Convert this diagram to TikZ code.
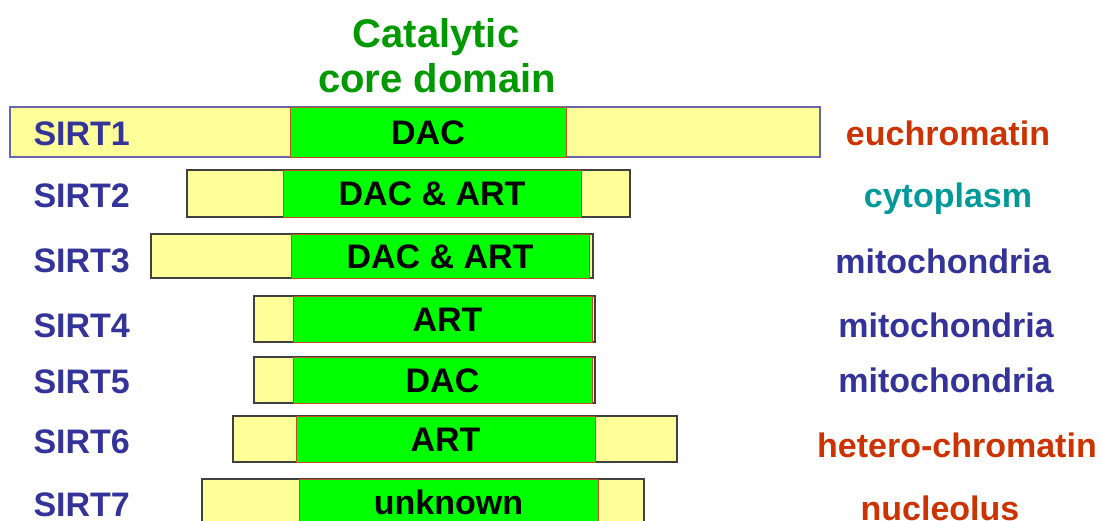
\documentclass[tikz,border=0pt]{standalone}
\usepackage{fontspec}
\setmainfont{Liberation Sans}
\definecolor{sirtblue}{HTML}{333399}
\definecolor{locred}{HTML}{CC3300}
\definecolor{loccyan}{HTML}{009999}
\definecolor{coregreen}{HTML}{009900}
\definecolor{barfill}{HTML}{FFFF99}
\definecolor{domfill}{HTML}{00FF00}
\definecolor{domline}{RGB}{192,80,32}
\definecolor{barline}{HTML}{404040}
\definecolor{firstline}{HTML}{6666AA}
\begin{document}
\begin{tikzpicture}[x=1pt,y=-1pt,
    bigtext/.style={font=\fontsize{34}{40}\selectfont\bfseries},
    bar/.style={draw=barline,line width=1.4pt,fill=barfill,anchor=north west,
      inner sep=0pt,outer sep=0pt,minimum height=46pt},
    dom/.style={draw=domline,line width=1pt,fill=domfill,anchor=north west,bigtext,
      inner sep=0pt,outer sep=0pt,minimum height=46pt,text height=24pt,text depth=0pt},
    sirtname/.style={bigtext,text=sirtblue,anchor=base west},
    loc/.style={bigtext,anchor=base},
    title/.style={font=\fontsize{40}{45}\selectfont\bfseries,text=coregreen,anchor=base}]
  \useasboundingbox (0,0) rectangle (1101,520);
  % title
  \node[title] (t1) at (436,47) {Catalytic};
  \node[title] (t2) at (437,92) {core domain};
  % SIRT1
  \node[bar,draw=firstline,minimum width=810pt,minimum height=50pt] (s1) at (10,107) {};
  \node[dom,minimum width=276pt,minimum height=50pt] (d1) at (290,107) {DAC};
  \node[sirtname] (n1) at (30,145) {SIRT1};
  \node[loc,text=locred] (l1) at (948,145) {euchromatin};
  % SIRT2
  \node[bar,minimum width=443pt,minimum height=47pt] (s2) at (187,170) {};
  \node[dom,minimum width=298pt,minimum height=47pt] (d2) at (283,170) {DAC \& ART};
  \node[sirtname] (n2) at (30,207) {SIRT2};
  \node[loc,text=loccyan] (l2) at (948,207) {cytoplasm};
  % SIRT3
  \node[bar,minimum width=442pt,minimum height=44pt] (s3) at (151,234) {};
  \node[dom,minimum width=298pt,minimum height=44pt] (d3) at (291,234) {DAC \& ART};
  \node[sirtname] (n3) at (30,272) {SIRT3};
  \node[loc,text=sirtblue] (l3) at (943,273) {mitochondria};
  % SIRT4
  \node[bar,minimum width=341pt] (s4) at (254,296) {};
  \node[dom,minimum width=299pt] (d4) at (293,296) {\hspace*{10pt}ART};
  \node[sirtname] (n4) at (30,337) {SIRT4};
  \node[loc,text=sirtblue] (l4) at (946,337) {mitochondria};
  % SIRT5
  \node[bar,minimum width=341pt] (s5) at (254,357) {};
  \node[dom,minimum width=299pt] (d5) at (293,357) {DAC};
  \node[sirtname] (n5) at (30,393) {SIRT5};
  \node[loc,text=sirtblue] (l5) at (946,392) {mitochondria};
  % SIRT6
  \node[bar,minimum width=444pt] (s6) at (233,416) {};
  \node[dom,minimum width=299pt] (d6) at (296,416) {ART};
  \node[sirtname] (n6) at (30,453) {SIRT6};
  \node[loc,text=locred] (l6) at (957,457) {hetero-chromatin};
  % SIRT7
  \node[bar,minimum width=442pt] (s7) at (202,479) {};
  \node[dom,minimum width=299pt] (d7) at (299,479) {unknown};
  \node[sirtname] (n7) at (30,516) {SIRT7};
  \node[loc,text=locred] (l7) at (940,520) {nucleolus};
\end{tikzpicture}
\end{document}
